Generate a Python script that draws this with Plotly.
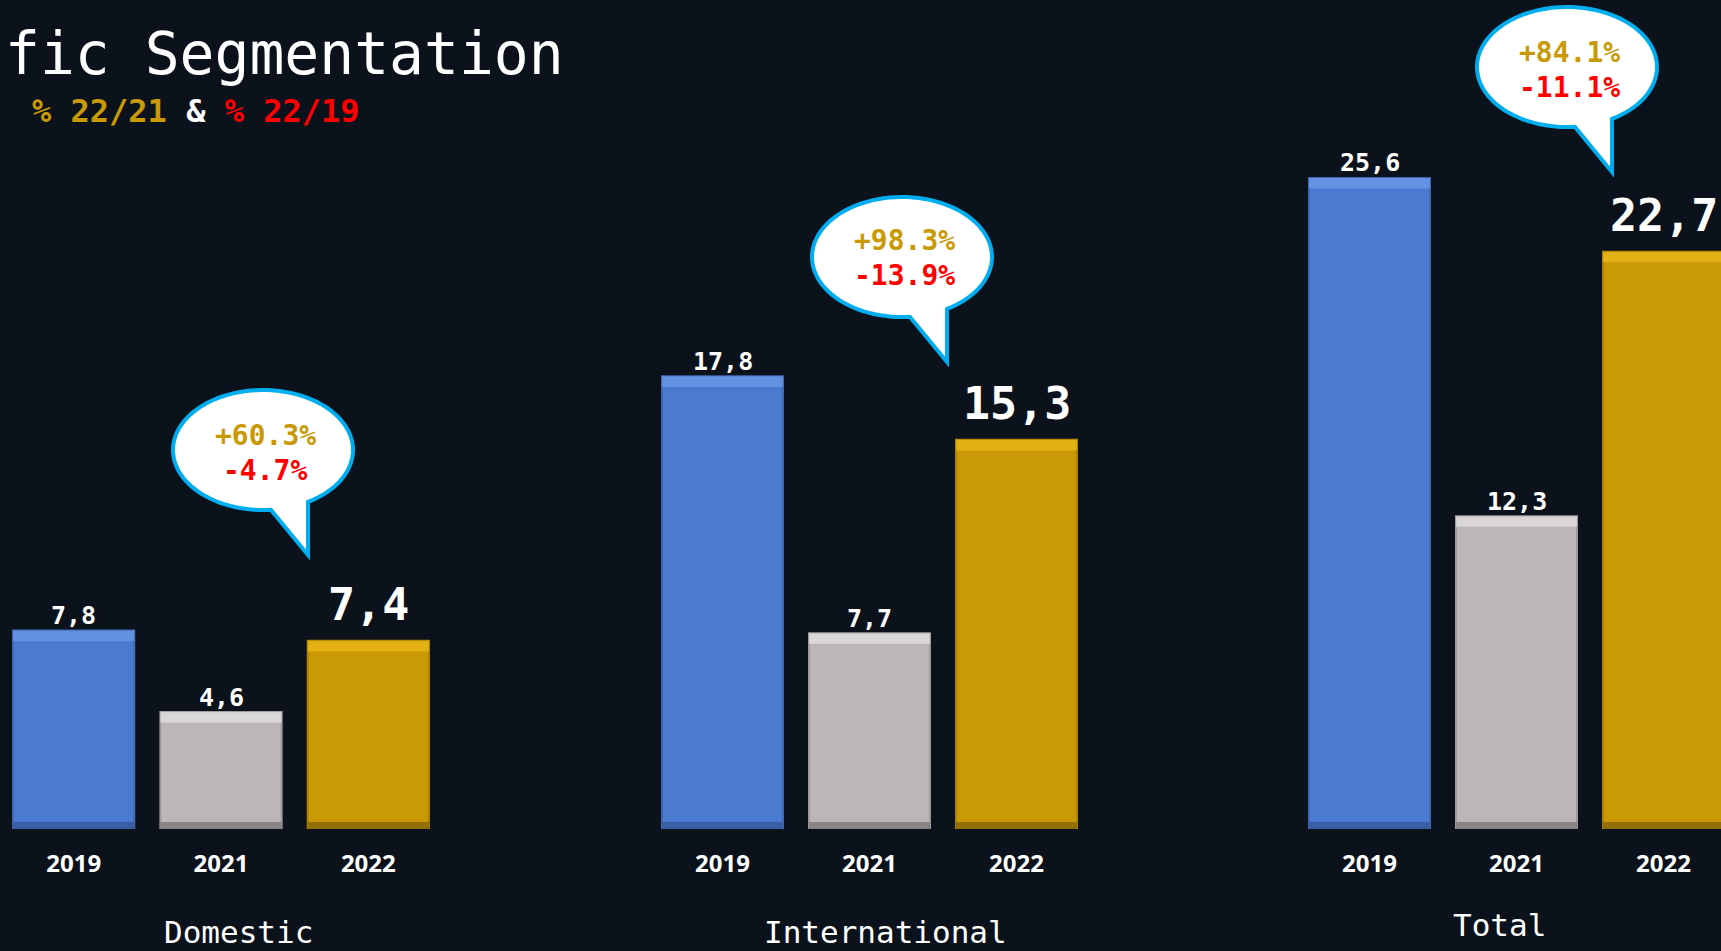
import numpy as np
import plotly.graph_objects as go

# ---------------- data ----------------
groups = ["Domestic", "International", "Total"]
years = ["2019", "2021", "2022"]
domestic = [7.8, 4.6, 7.4]
international = [17.8, 7.7, 15.3]
total = [25.6, 12.3, 22.7]
growth_22_21 = ["+60.3%", "+98.3%", "+84.1%"]
growth_22_19 = ["-4.7%", "-13.9%", "-11.1%"]
title_text = "fic Segmentation"
subtitle_parts = ["% 22/21", "&", "% 22/19"]

# ---------------- style ----------------
W, H = 1721, 951
BG = "#0C121C"
BLUE, GRAY, GOLD = "#4A7BD0", "#BAB7B6", "#C99A06"
bar_colors = [BLUE, GRAY, GOLD]
edge_colors = ["#3F69B4", "#9E9B9A", "#AC8405"]
top_colors = ["#6D9AE8", "#E4E2E1", "#EBB81A"]
bottom_colors = ["#35589A", "#7C7978", "#876504"]
RED = "#FF0000"
CYAN = "#00AEEF"
MONO = "DejaVu Sans Mono"

ML, MR, MT, MB = 0, 0, 66, 122
PH = H - MT - MB
TOP_BAND, BOTTOM_BAND = 0.42, 0.28


def px_x(x):
    return (x - ML) / (W - ML - MR)


def px_y(y):
    return (H - MB - y) / PH


def fmt(v):
    return f"{v:.1f}".replace(".", ",")


fig = go.Figure()
series = [domestic, international, total]
axes = ["x", "x2", "x3"]
for vals, ax in zip(series, axes):
    fig.add_trace(go.Bar(
        x=years, y=vals, xaxis=ax, yaxis="y",
        marker=dict(color=bar_colors, line=dict(color=edge_colors, width=2)),
        showlegend=False, hoverinfo="skip",
    ))
    # bevel highlight at the top and shadow at the bottom of each bar
    fig.add_trace(go.Bar(
        x=years, y=[TOP_BAND] * len(vals), base=[v - TOP_BAND for v in vals],
        xaxis=ax, yaxis="y", marker=dict(color=top_colors, line=dict(width=0), opacity=0.75),
        showlegend=False, hoverinfo="skip",
    ))
    fig.add_trace(go.Bar(
        x=years, y=[BOTTOM_BAND] * len(vals), base=[0] * len(vals),
        xaxis=ax, yaxis="y", marker=dict(color=bottom_colors, line=dict(width=0), opacity=0.8),
        showlegend=False, hoverinfo="skip",
    ))
    for i, v in enumerate(vals):
        big = i == len(vals) - 1
        fig.add_annotation(
            x=i, y=v, xref=ax, yref="y", text=fmt(v), showarrow=False,
            xanchor="center", yanchor="middle", yshift=36 if big else 15,
            font=dict(family=MONO, size=45 if big else 25, color="white", weight="bold"),
        )

xcommon = dict(
    type="category",
    showgrid=False, zeroline=False, showline=False,
    ticks="outside", ticklen=13, tickcolor=BG,
    tickfont=dict(family="Open Sans", size=24, color="white", weight="bold"),
    anchor="y", fixedrange=True,
)
fig.update_layout(
    width=W, height=H,
    paper_bgcolor=BG, plot_bgcolor=BG,
    margin=dict(l=ML, r=MR, t=MT, b=MB),
    barmode="overlay", bargap=0.177,
    xaxis=dict(domain=[px_x(0), px_x(442)], range=[-0.5, 2.5], **xcommon),
    xaxis2=dict(domain=[px_x(649), px_x(1090)], range=[-0.5, 2.5], **xcommon),
    xaxis3=dict(domain=[px_x(1296), 1], range=[-0.5, 2.5 - 16 / 147], **xcommon),
    yaxis=dict(range=[0, 30], visible=False, fixedrange=True),
)

# ---------------- speech bubbles ----------------
bubble_centers = [(263, 450), (902, 257), (1567, 67)]
bubble_line_dy = [(-14, 20), (-16, 18), (-15, 21)]


def bubble_path(cx, cy, rx=90, ry=60, t1=60, t2=85, tip=(45, 105)):
    ts = np.radians(np.linspace(t1, t2 - 360, 90))
    pts = [(cx + rx * np.cos(t), cy + ry * np.sin(t)) for t in ts]
    pts.append((cx + tip[0], cy + tip[1]))
    return "M " + " L ".join(f"{px_x(x):.5f},{px_y(y):.5f}" for x, y in pts) + " Z"


for (cx, cy), (d1, d2), g1, g2 in zip(bubble_centers, bubble_line_dy, growth_22_21, growth_22_19):
    fig.add_shape(type="path", path=bubble_path(cx, cy), xref="paper", yref="paper",
                  fillcolor="white", line=dict(color=CYAN, width=4), layer="above")
    for txt, col, dy in ((g1, GOLD, d1), (g2, RED, d2)):
        fig.add_annotation(
            x=px_x(cx + 2), y=px_y(cy + dy), xref="paper", yref="paper",
            text=txt, showarrow=False,
            font=dict(family=MONO, size=28, weight="bold", color=col),
            xanchor="center", yanchor="middle", borderpad=0,
        )

# ---------------- titles ----------------
fig.add_annotation(x=px_x(3), y=px_y(54), xref="paper", yref="paper", text=title_text,
                   showarrow=False, xanchor="left", yanchor="middle",
                   font=dict(family=MONO, size=58, color="white"))
fig.add_annotation(
    x=px_x(30), y=px_y(111), xref="paper", yref="paper",
    text=(f"<span style='color:{GOLD}'>{subtitle_parts[0]}</span> "
          f"<span style='color:white'>{subtitle_parts[1]}</span> "
          f"<span style='color:{RED}'>{subtitle_parts[2]}</span>"),
    showarrow=False, xanchor="left", yanchor="middle",
    font=dict(family=MONO, size=32, weight="bold"),
)

group_label_pos = [(238, 951), (885, 951), (1499, 944)]
for name, (gx, gy) in zip(groups, group_label_pos):
    fig.add_annotation(x=px_x(gx), y=px_y(gy), xref="paper", yref="paper", text=name,
                       showarrow=False, xanchor="center", yanchor="bottom", borderpad=0,
                       font=dict(family=MONO, size=31, color="white"))

fig.write_html("out.html", config={"displayModeBar": False},
               post_script="document.body.style.margin='0';")
